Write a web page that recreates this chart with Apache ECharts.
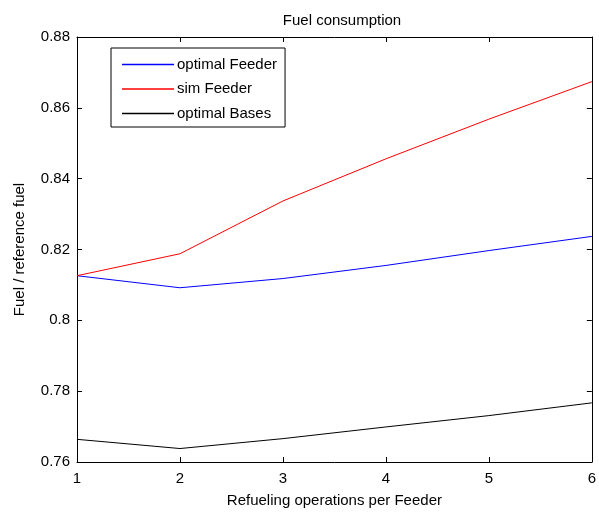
<!DOCTYPE html>
<html>
<head>
<meta charset="utf-8">
<script src="https://cdn.jsdelivr.net/npm/echarts@6/dist/echarts.min.js"></script>
<style>
html,body{margin:0;padding:0;background:#fff;}
#chart{width:599px;height:513px;}
</style>
</head>
<body>
<div id="chart"></div>
<script>
var xValues = [1, 2, 3, 4, 5, 6];
var optimalFeeder = [0.8126, 0.8092, 0.8118, 0.8155, 0.8197, 0.8237];
var simFeeder = [0.8126, 0.8188, 0.8337, 0.8456, 0.8568, 0.8674];
var optimalBases = [0.7664, 0.7638, 0.7666, 0.7699, 0.7731, 0.7767];
var seriesNames = ['optimal Feeder', 'sim Feeder', 'optimal Bases'];
var seriesColors = ['#0000ff', '#ff0000', '#000000'];
var titleText = 'Fuel consumption';
var xName = 'Refueling operations per Feeder';
var yName = 'Fuel / reference fuel';

var font = 'Liberation Sans, Arial, sans-serif';
function pairs(vals){ return xValues.map(function(x,i){ return [x, vals[i]]; }); }
var allData = [optimalFeeder, simFeeder, optimalBases];

var chart = echarts.init(document.getElementById('chart'), null, {renderer:'canvas'});
var axisLine = {show:true, lineStyle:{color:'#000', width:1}};
var tick = {show:true, inside:true, length:5, lineStyle:{color:'#000'}};
chart.setOption({
  animation:false,
  backgroundColor:'#fff',
  color:seriesColors,
  title:{text:titleText, left:337, textAlign:'center', top:8,
    textStyle:{fontFamily:font, fontSize:15, fontWeight:'normal', color:'#000'}},
  grid:{left:77, right:2, top:37, bottom:50, containLabel:false},
  legend:{
    orient:'vertical', left:111, top:48,
    data:seriesNames.map(function(n,i){
      return {name:n, icon:'rect', itemStyle:{color:seriesColors[i], borderWidth:0, opacity:1}};
    }),
    backgroundColor:'#fff', borderColor:'#000', borderWidth:1, borderRadius:0,
    padding:[9,8,6,11], itemGap:9.5, itemWidth:52, itemHeight:1.6,
    textStyle:{fontFamily:font, fontSize:15, color:'#000', padding:[0,0,0,-2]},
    selectedMode:false
  },
  xAxis:[
    {type:'value', min:1, max:6, interval:1, position:'bottom',
     name:xName, nameLocation:'middle', nameGap:31,
     nameTextStyle:{fontFamily:font, fontSize:15, color:'#000'},
     axisLine:axisLine, axisTick:tick, splitLine:{show:false},
     axisLabel:{fontFamily:font, fontSize:15, color:'#000', margin:9}},
    {type:'value', min:1, max:6, interval:1, position:'top',
     axisLine:axisLine, axisTick:tick, splitLine:{show:false}, axisLabel:{show:false}}
  ],
  yAxis:[
    {type:'value', min:0.76, max:0.88, interval:0.02, position:'left',
     name:yName, nameLocation:'middle', nameGap:50,
     nameTextStyle:{fontFamily:font, fontSize:15, color:'#000'},
     axisLine:axisLine, axisTick:tick, splitLine:{show:false},
     axisLabel:{fontFamily:font, fontSize:15, color:'#000', margin:7}},
    {type:'value', min:0.76, max:0.88, interval:0.02, position:'right',
     axisLine:axisLine, axisTick:tick, splitLine:{show:false}, axisLabel:{show:false}}
  ],
  series: seriesNames.map(function(n,i){
    return {name:n, type:'line', data:pairs(allData[i]), symbol:'none', showSymbol:false,
      color:seriesColors[i],
      lineStyle:{color:seriesColors[i], width:1}, itemStyle:{color:seriesColors[i]}};
  })
});
</script>
</body>
</html>
